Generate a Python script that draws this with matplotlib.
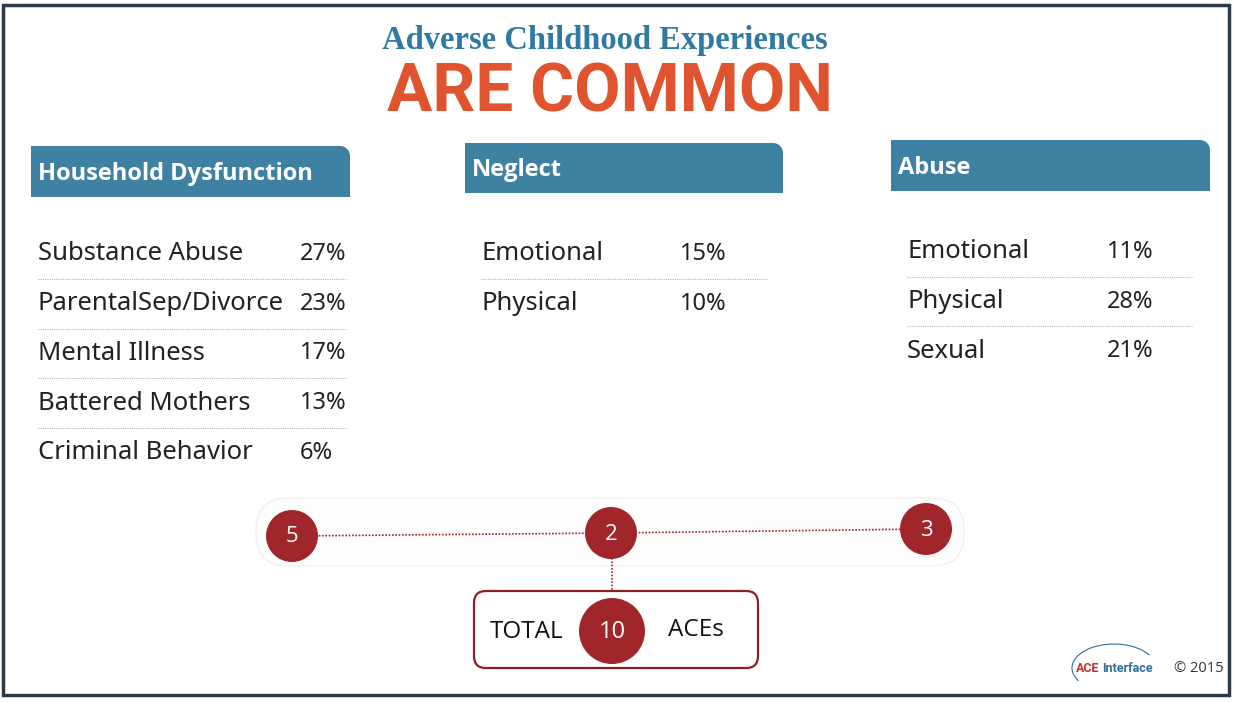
import numpy as np
import matplotlib.pyplot as plt
from matplotlib.patches import Circle, FancyBboxPatch, Polygon, Arc

# dados do infografico
hd_labels = ["Substance Abuse", "ParentalSep/Divorce", "Mental Illness", "Battered Mothers", "Criminal Behavior"]
hd_values = [27, 23, 17, 13, 6]
neglect_labels = ["Emotional", "Physical"]
neglect_values = [15, 10]
abuse_labels = ["Emotional", "Physical", "Sexual"]
abuse_values = [11, 28, 21]
group_names = ["Household Dysfunction", "Neglect", "Abuse"]
group_counts = [5, 2, 3]

blue = "#3f81a3"
red = "#a1262b"
text_col = "#222222"
font = "Noto Sans"

fig = plt.figure(figsize=(12.34, 7.02), dpi=100)
ax = fig.add_axes([0, 0, 1, 1])
ax.set_xlim(0, 1234)
ax.set_ylim(702, 0)
ax.axis("off")

# moldura
ax.add_patch(plt.Rectangle((3, 5), 1226, 690, fill=False, ec="#2b3b4a", lw=2.5))

# titulo
ax.text(605, 41, "Adverse Childhood Experiences", ha="center", va="center",
        family="Liberation Serif", weight="bold", fontsize=23.5, color="#2f7aa3")
ax.text(610, 94, "ARE COMMON", ha="center", va="center", family="Roboto",
        weight="bold", fontsize=48.5, color="#e0532f")


def header(x0, y0, w, h, title):
    # barra com canto superior direito arredondado
    r = 10
    ang = np.linspace(np.pi / 2, 0, 12)
    arc = np.column_stack([x0 + w - r + r * np.cos(ang), y0 + r - r * np.sin(ang)])
    pts = np.vstack([[x0, y0 + h], [x0, y0], arc, [x0 + w, y0 + h]])
    ax.add_patch(Polygon(pts, closed=True, fc=blue, ec="none"))
    ax.text(x0 + 7, y0 + h / 2 + 2, title, ha="left", va="center", family="Open Sans",
            weight="bold", fontsize=17, color="white")


def rows(labels, values, x_lab, x_val, y0, step, x_end):
    for i, (lab, v) in enumerate(zip(labels, values)):
        y = y0 + i * step
        ax.text(x_lab, y, lab, ha="left", va="center", family=font, fontsize=18.5, color=text_col)
        ax.text(x_val, y, f"{v}%", ha="left", va="center", family=font, fontsize=17, color=text_col)
        if i < len(labels) - 1:
            ax.plot([x_lab, x_end], [y + step / 2, y + step / 2], color="#b5b5b5",
                    lw=0.8, ls=(0, (1, 1)))


header(31, 146, 319, 51, group_names[0])
header(465, 143, 318, 50, group_names[1])
header(891, 140, 319, 51, group_names[2])

rows(hd_labels, hd_values, 38, 300, 254, 49.7, 347)
rows(neglect_labels, neglect_values, 481, 680, 254, 49.5, 768)
rows(abuse_labels, abuse_values, 907, 1107, 252, 49.5, 1192)

# faixa de fundo clarinha
ax.add_patch(FancyBboxPatch((256, 498), 708, 68, boxstyle="round,pad=0,rounding_size=32",
                            fc="#fdfdfd", ec="#f0f0f0", lw=1))

cx = [292, 611, 926]
cy = [536, 533, 529]
ax.plot(cx, cy, color=red, lw=1.2, ls=(0, (1, 1)), zorder=2)
ax.plot([612, 612], [558, 592], color=red, lw=1.2, ls=(0, (1, 1)), zorder=2)
for x, y, n in zip(cx, cy, group_counts):
    ax.add_patch(Circle((x, y), 26, fc=red, ec="none", zorder=3))
    ax.text(x, y + 1, str(n), ha="center", va="center", family="Open Sans",
            fontsize=16, color="white", zorder=4)

# caixa do total
ax.add_patch(FancyBboxPatch((474, 591), 284, 77, boxstyle="round,pad=0,rounding_size=12",
                            fc="white", ec="#8e1f24", lw=1.6, zorder=3))
ax.add_patch(Circle((612, 631), 33, fc=red, ec="none", zorder=4))
ax.text(612, 632, str(sum(group_counts)), ha="center", va="center", family="Open Sans",
        fontsize=17, color="white", zorder=5)
ax.text(490, 632, "TOTAL", ha="left", va="center", family="Open Sans", fontsize=17.5,
        color="#111111", zorder=5)
ax.text(668, 630, "ACEs", ha="left", va="center", family="Open Sans", fontsize=17.5,
        color="#111111", zorder=5)

# logo
ax.add_patch(Arc((1114, 668), 84, 48, theta1=160, theta2=340, color="#2f6f9a", lw=0.8))
ax.text(1099, 668, "ACE", ha="right", va="center", family="Roboto",
        weight="bold", fontsize=9, color="#c8302c")
ax.text(1102, 668, "Interface", ha="left", va="center", family="Roboto",
        weight="bold", fontsize=9, color="#2f6f9a")
ax.text(1174, 668, "© 2015", ha="left", va="center", family="Open Sans", fontsize=10.5,
        color="#333333")

fig.savefig("out.png", dpi=100)
